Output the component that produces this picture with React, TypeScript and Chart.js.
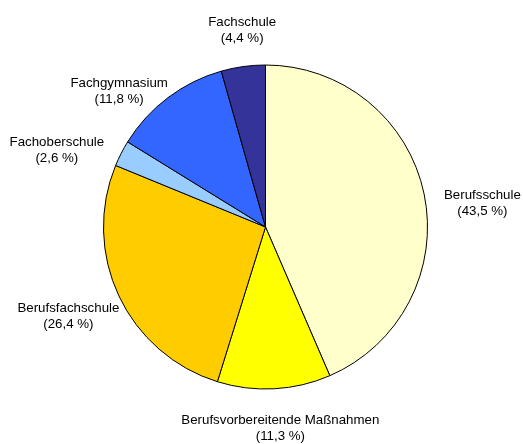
import React, { useEffect, useRef } from "react";
import { Chart, registerables } from "chart.js";

Chart.register(...registerables);

const categories = [
  "Berufsschule",
  "Berufsvorbereitende Maßnahmen",
  "Berufsfachschule",
  "Fachoberschule",
  "Fachgymnasium",
  "Fachschule",
];
const shares = [43.5, 11.3, 26.4, 2.6, 11.8, 4.4];
const shareLabels = ["43,5", "11,3", "26,4", "2,6", "11,8", "4,4"];
const colors = ["#FFFFCC", "#FFFF00", "#FFCC00", "#99CCFF", "#3366FF", "#333399"];

const FONT = "13.3px 'Liberation Sans', Arial, sans-serif";

const labelPlugin = {
  id: "outerLabels",
  afterDatasetsDraw(chart: any, _args: any, opts: any) {
    const ctx = chart.ctx;
    const meta = chart.getDatasetMeta(0);
    const nudges: number[][] = opts.nudges || [];
    ctx.save();
    ctx.font = FONT;
    ctx.fillStyle = "#000";
    ctx.textAlign = "center";
    ctx.textBaseline = "middle";
    meta.data.forEach((arc: any, i: number) => {
      const { x, y, startAngle, endAngle, outerRadius } = arc.getProps(
        ["x", "y", "startAngle", "endAngle", "outerRadius"],
        true
      );
      const mid = (startAngle + endAngle) / 2;
      const l1 = categories[i];
      const l2 = "(" + shareLabels[i] + " %)";
      const w = Math.max(ctx.measureText(l1).width, ctx.measureText(l2).width);
      const h = 32;
      const c = Math.cos(mid);
      const s = Math.sin(mid);
      const dist = outerRadius + 17;
      const n = nudges[i] || [0, 0];
      const cx = x + c * dist + (c * w) / 2 + n[0];
      const cy = y + s * dist + (s * h) / 2 + n[1];
      ctx.fillText(l1, cx, cy - 8);
      ctx.fillText(l2, cx, cy + 8);
    });
    ctx.restore();
  },
};

export default function App() {
  const ref = useRef<HTMLCanvasElement>(null);
  useEffect(() => {
    if (!ref.current) return;
    const chart = new Chart(ref.current, {
      type: "pie",
      data: {
        labels: categories,
        datasets: [
          {
            data: shares,
            backgroundColor: colors,
            borderColor: "#000",
            borderWidth: 1,
          },
        ],
      },
      options: {
        animation: false,
        responsive: false,
        events: [],
        layout: { padding: { top: 64.5, bottom: 54.5, left: 103, right: 95 } },
        plugins: {
          legend: { display: false },
          tooltip: { enabled: false },
          outerLabels: {
            nudges: [
              [4, 16],
              [0, 7],
              [11, 6],
              [-7, 12],
              [-9, 20],
              [6, -4],
            ],
          },
        } as any,
      },
      plugins: [labelPlugin],
    });
    return () => chart.destroy();
  }, []);
  return (
    <div style={{ position: "fixed", left: 0, top: 0, width: 523, height: 444, background: "#fff" }}>
      <canvas ref={ref} width={523} height={444} style={{ width: 523, height: 444 }} />
    </div>
  );
}
